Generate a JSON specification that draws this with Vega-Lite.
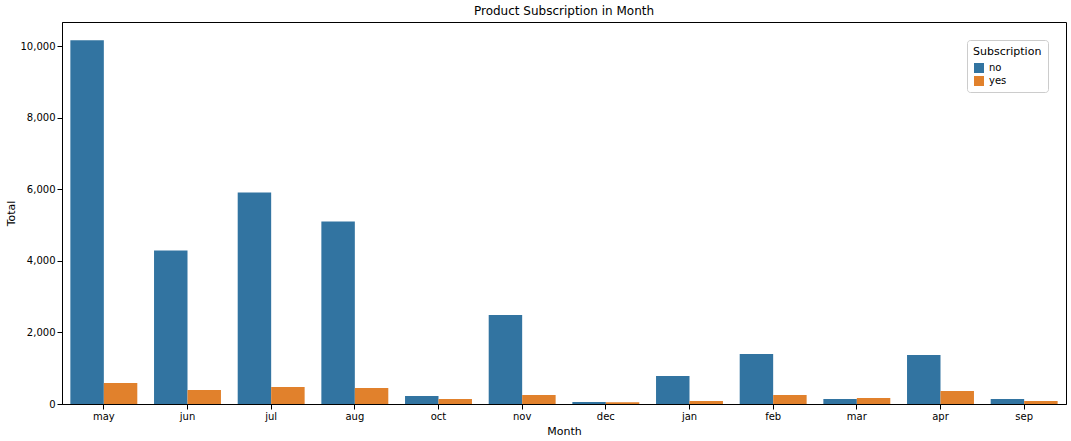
{
"$schema":"https://vega.github.io/schema/vega-lite/v6.json",
"width":1071,"height":441,
"autosize":{"type":"fit","contains":"padding"},
"background":"white",
"title":{"text":"Product Subscription in Month","fontSize":12,"fontWeight":"normal","font":"DejaVu Sans","color":"black"},
"data":{"values":[
{"m":"may","s":"no","v":10170},{"m":"may","s":"yes","v":590},
{"m":"jun","s":"no","v":4290},{"m":"jun","s":"yes","v":390},
{"m":"jul","s":"no","v":5910},{"m":"jul","s":"yes","v":476},
{"m":"aug","s":"no","v":5100},{"m":"aug","s":"yes","v":448},
{"m":"oct","s":"no","v":224},{"m":"oct","s":"yes","v":140},
{"m":"nov","s":"no","v":2490},{"m":"nov","s":"yes","v":252},
{"m":"dec","s":"no","v":56},{"m":"dec","s":"yes","v":50},
{"m":"jan","s":"no","v":784},{"m":"jan","s":"yes","v":84},
{"m":"feb","s":"no","v":1400},{"m":"feb","s":"yes","v":252},
{"m":"mar","s":"no","v":140},{"m":"mar","s":"yes","v":168},
{"m":"apr","s":"no","v":1372},{"m":"apr","s":"yes","v":364},
{"m":"sep","s":"no","v":140},{"m":"sep","s":"yes","v":84}
]},
"mark":{"type":"bar"},
"encoding":{
"x":{"field":"m","type":"nominal","sort":null,"title":"Month","scale":{"paddingInner":0.2,"paddingOuter":0.1},
 "axis":{"labelAngle":0,"grid":false,"labelFont":"DejaVu Sans","titleFont":"DejaVu Sans","titleFontWeight":"normal","labelColor":"black","titleColor":"black","domainColor":"black","tickColor":"black"}},
"xOffset":{"field":"s","type":"nominal"},
"y":{"field":"v","type":"quantitative","title":"Total","scale":{"domain":[0,10680],"nice":false},
 "axis":{"values":[0,2000,4000,6000,8000,10000],"grid":false,"labelFont":"DejaVu Sans","titleFont":"DejaVu Sans","titleFontWeight":"normal","labelColor":"black","titleColor":"black","domainColor":"black","tickColor":"black"}},
"color":{"field":"s","type":"nominal","scale":{"range":["#3274a1","#e1812c"]},
 "legend":{"title":"Subscription","orient":"top-right","titleFontWeight":"normal","titleFont":"DejaVu Sans","labelFont":"DejaVu Sans","symbolType":"square","strokeColor":"#cccccc","fillColor":"white","padding":6,"cornerRadius":3}}
},
"config":{"view":{"stroke":"black"}}
}
